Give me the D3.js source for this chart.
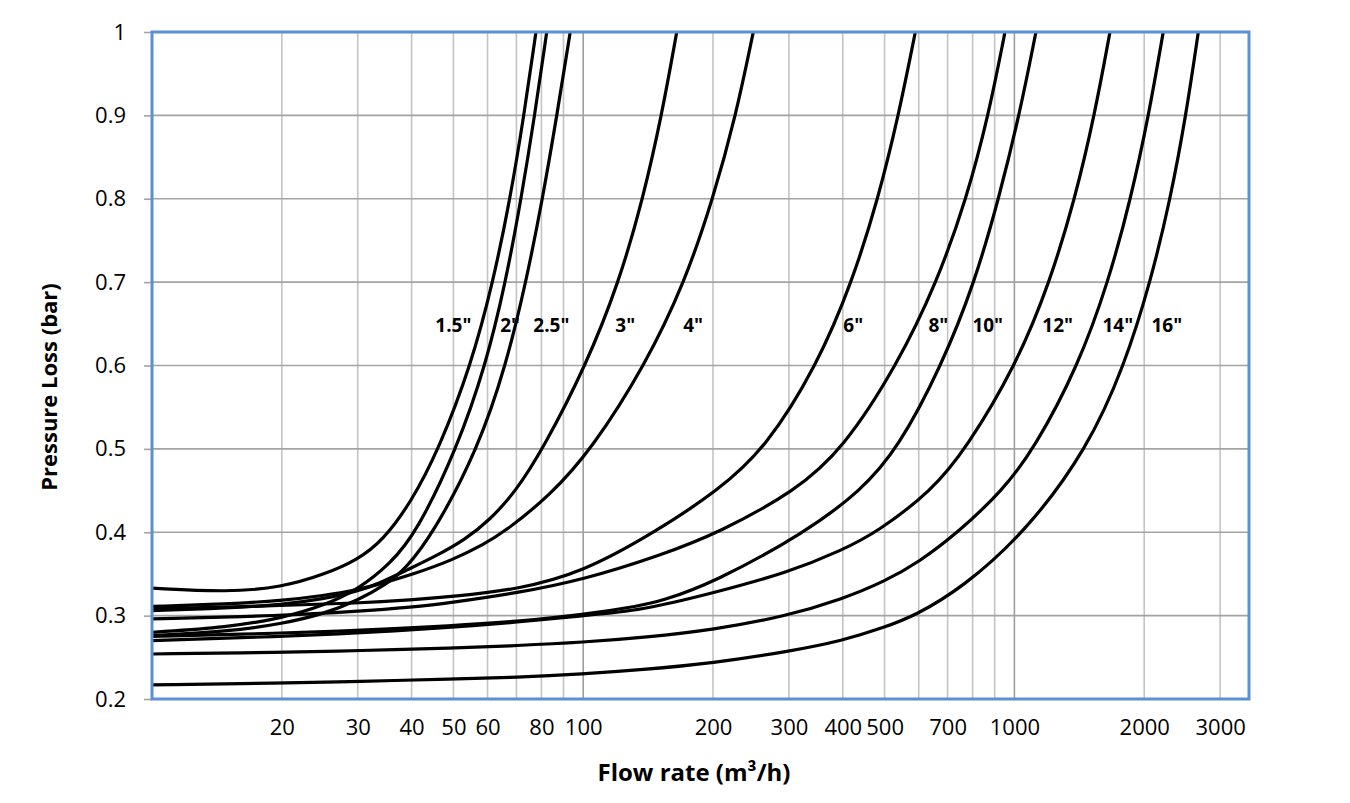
<!DOCTYPE html>
<html lang="en">
<head>
    <meta charset="UTF-8">
    <title>Pressure Loss vs Flow Rate</title>
    <script src="https://d3js.org/d3.v7.min.js"></script>
    <style>
        body {
            margin: 0;
            background: #fff;
        }

        text {
            font-family: "Open Sans", sans-serif;
            fill: #000;
        }

        .grid-minor {
            stroke: #c4c4c4;
            stroke-width: 1.6px;
        }

        .grid-major {
            stroke: #9e9e9e;
            stroke-width: 1.6px;
        }

        .grid-h {
            stroke: #a3a3a3;
            stroke-width: 1.6px;
        }

        .curve {
            fill: none;
            stroke: #000;
            stroke-width: 3.2px;
        }

        .frame {
            fill: none;
            stroke: #5b8fd6;
            stroke-width: 3px;
        }
    </style>
</head>
<body>
<svg width="1350" height="803"></svg>
<script>
    // pipe sizes, one curve each
    const sizes = ['1.5"', '2"', '2.5"', '3"', '4"', '6"', '8"', '10"', '12"', '14"', '16"'];

    // flow rate (m3/h) and pressure loss (bar)
    const flow15 = [10, 15, 20, 25, 30, 34.3, 39.9, 46.3, 54.9, 61.8, 67.7, 72.9, 77.7];
    const loss15 = [0.333, 0.328, 0.334, 0.349, 0.367, 0.390, 0.436, 0.500, 0.600, 0.700, 0.800, 0.900, 1.000];

    const flow2 = [10, 15, 20, 25, 30, 35.7, 41.1, 50.9, 59.4, 66.1, 71.8, 77.2, 82.3];
    const loss2 = [0.280, 0.286, 0.297, 0.312, 0.331, 0.362, 0.400, 0.500, 0.600, 0.700, 0.800, 0.900, 1.000];

    const flow25 = [10, 15, 20, 25, 30, 35, 38.6, 45.1, 57.0, 66.2, 73.7, 80.5, 86.9, 93.3];
    const loss25 = [0.276, 0.281, 0.290, 0.302, 0.318, 0.338, 0.355, 0.400, 0.500, 0.600, 0.700, 0.800, 0.900, 1.000];

    const flow3 = [10, 15, 20, 25, 30, 33.8, 39.1, 45, 53.2, 60.8, 69.5, 80.7, 101.5, 121.1, 137.6, 152.1, 164.8];
    const loss3 = [0.306, 0.309, 0.313, 0.320, 0.329, 0.339, 0.355, 0.370, 0.391, 0.415, 0.448, 0.500, 0.600, 0.700, 0.800, 0.900, 1.000];

    const flow4 = [10, 15, 20, 25, 30, 33.8, 40, 50, 59.0, 65.5, 83.8, 104.8, 139.1, 172.1, 200, 226.1, 248.0];
    const loss4 = [0.311, 0.314, 0.318, 0.324, 0.331, 0.338, 0.349, 0.367, 0.386, 0.400, 0.444, 0.500, 0.600, 0.700, 0.800, 0.900, 1.000];

    const flow6 = [10, 20, 30, 40, 50, 70, 100, 146.7, 205.4, 264.2, 348.6, 420.3, 483.1, 538.8, 589.2];
    const loss6 = [0.308, 0.312, 0.315, 0.319, 0.323, 0.331, 0.352, 0.400, 0.450, 0.500, 0.600, 0.700, 0.800, 0.900, 1.000];

    const flow8 = [10, 20, 30, 40, 50, 70, 100, 150.7, 207.6, 311.5, 400.4, 534.1, 661.6, 774.4, 870.9, 951.0];
    const loss8 = [0.296, 0.300, 0.305, 0.310, 0.316, 0.327, 0.343, 0.372, 0.400, 0.450, 0.500, 0.600, 0.700, 0.800, 0.900, 1.000];

    const flow10 = [10, 20, 30, 50, 70, 100, 136, 150.7, 200, 328.2, 441, 536.5, 678.5, 809.4, 919.8, 1026.6, 1122];
    const loss10 = [0.275, 0.279, 0.282, 0.288, 0.293, 0.301, 0.312, 0.317, 0.339, 0.400, 0.450, 0.500, 0.600, 0.700, 0.800, 0.900, 1.000];

    const flow12 = [10, 20, 30, 50, 70, 100, 136, 200, 300, 400, 480, 644.1, 772.3, 1008.6, 1209, 1382, 1534, 1666];
    const loss12 = [0.270, 0.275, 0.279, 0.286, 0.292, 0.300, 0.306, 0.327, 0.352, 0.379, 0.400, 0.450, 0.500, 0.600, 0.700, 0.800, 0.900, 1.000];

    const flow14 = [10, 20, 30, 50, 70, 100, 140, 200, 294, 400, 500, 600, 741.3, 937.9, 1112, 1407, 1651, 1862, 2049, 2214];
    const loss14 = [0.254, 0.256, 0.258, 0.261, 0.264, 0.268, 0.274, 0.283, 0.299, 0.320, 0.341, 0.364, 0.400, 0.450, 0.500, 0.600, 0.700, 0.800, 0.900, 1.000];

    const flow16 = [10, 20, 30, 50, 70, 100, 136, 200, 300, 400, 500, 588.3, 755.9, 1061, 1477, 1800, 2068, 2301, 2500, 2670];
    const loss16 = [0.217, 0.219, 0.221, 0.224, 0.226, 0.230, 0.235, 0.243, 0.257, 0.270, 0.286, 0.300, 0.333, 0.400, 0.500, 0.600, 0.700, 0.800, 0.900, 1.000];

    const flows = [flow15, flow2, flow25, flow3, flow4, flow6, flow8, flow10, flow12, flow14, flow16];
    const losses = [loss15, loss2, loss25, loss3, loss4, loss6, loss8, loss10, loss12, loss14, loss16];

    // where each size label sits (left edge flow, shared loss level)
    const labelFlow = [45.4, 64.2, 76.6, 118.7, 170.6, 401.1, 631.7, 799.1, 1161, 1600, 2079];
    const labelLoss = 0.64;

    const xTicks = [20, 30, 40, 50, 60, 80, 100, 200, 300, 400, 500, 700, 1000, 2000, 3000];
    const yTicks = [0.2, 0.3, 0.4, 0.5, 0.6, 0.7, 0.8, 0.9, 1];

    const plotLeft = 152, plotRight = 1249, plotTop = 32, plotBottom = 699;

    const svg = d3.select("svg");
    const x = d3.scaleLog().domain([10, 3500]).range([plotLeft, plotRight]);
    const y = d3.scaleLinear().domain([0.2, 1]).range([plotBottom, plotTop]);

    // vertical grid, every log step
    const gridX = x.ticks().filter(v => v > 10);
    svg.append("g").selectAll("line").data(gridX).join("line")
        .attr("class", d => (d === 100 || d === 1000) ? "grid-major" : "grid-minor")
        .attr("x1", d => x(d)).attr("x2", d => x(d))
        .attr("y1", plotTop).attr("y2", plotBottom);

    // horizontal grid
    svg.append("g").selectAll("line").data(yTicks).join("line")
        .attr("class", "grid-h")
        .attr("x1", plotLeft).attr("x2", plotRight)
        .attr("y1", d => y(d)).attr("y2", d => y(d));

    // y axis
    const yAxis = svg.append("g")
        .attr("transform", `translate(${plotLeft},0)`)
        .call(d3.axisLeft(y).tickValues(yTicks).tickSize(8).tickSizeOuter(0).tickPadding(18).tickFormat(d3.format("")));
    yAxis.select(".domain").remove();
    yAxis.selectAll("line").attr("stroke", "#a3a3a3").attr("stroke-width", 1.6);
    yAxis.selectAll("text").style("font-family", '"Open Sans", sans-serif').style("font-size", "22px").attr("fill", "#000");

    // x axis
    const xAxis = svg.append("g")
        .attr("transform", `translate(0,${plotBottom})`)
        .call(d3.axisBottom(x).tickValues(xTicks).tickSize(0).tickPadding(20).tickFormat(d3.format("")));
    xAxis.select(".domain").remove();
    xAxis.selectAll("text").style("font-family", '"Open Sans", sans-serif').style("font-size", "22px").attr("fill", "#000");

    // curves
    svg.append("clipPath").attr("id", "plot")
        .append("rect").attr("x", plotLeft).attr("y", plotTop)
        .attr("width", plotRight - plotLeft).attr("height", plotBottom - plotTop);

    const line = d3.line()
        .x(d => x(d[0]))
        .y(d => y(d[1]))
        .curve(d3.curveBasis);

    const series = sizes.map((s, i) => flows[i].map((f, j) => [f, losses[i][j]]));

    svg.append("g").attr("clip-path", "url(#plot)")
        .selectAll("path").data(series).join("path")
        .attr("class", "curve")
        .attr("d", line);

    // size labels
    svg.append("g").selectAll("text").data(sizes).join("text")
        .attr("x", (d, i) => x(labelFlow[i]))
        .attr("y", y(labelLoss))
        .style("font-size", "19px")
        .style("font-weight", "bold")
        .text(d => d);

    // plot frame
    svg.append("rect")
        .attr("class", "frame")
        .attr("x", plotLeft).attr("y", plotTop)
        .attr("width", plotRight - plotLeft).attr("height", plotBottom - plotTop);

    // axis titles
    svg.append("text")
        .attr("x", 694).attr("y", 781)
        .attr("text-anchor", "middle")
        .style("font-size", "24px")
        .style("font-weight", "bold")
        .text("Flow rate (m³/h)");

    svg.append("text")
        .attr("transform", "translate(57,387) rotate(-90)")
        .attr("text-anchor", "middle")
        .style("font-size", "22px")
        .style("font-weight", "bold")
        .text("Pressure Loss (bar)");
</script>
</body>
</html>
